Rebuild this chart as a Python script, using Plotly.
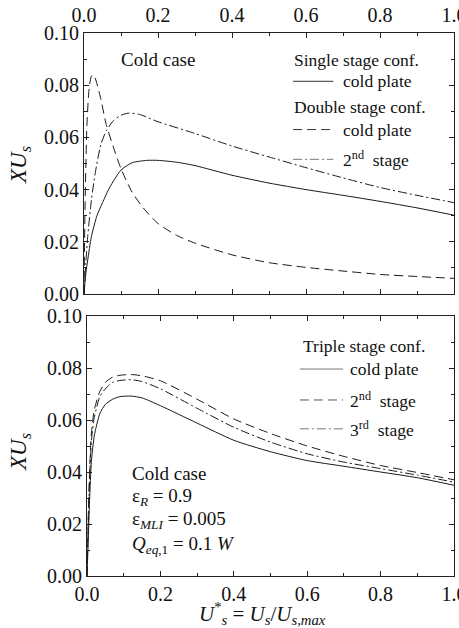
import plotly.graph_objects as go

# ---------------- data ----------------
# Top panel: single stage cold plate
x_single = [0, 0.005, 0.01, 0.02, 0.035, 0.05, 0.07, 0.1, 0.13, 0.17, 0.2, 0.25, 0.3, 0.4, 0.5, 0.6, 0.7, 0.8, 0.9, 1.0]
y_single = [0, 0.008, 0.013, 0.022, 0.030, 0.035, 0.041, 0.0475, 0.0503, 0.0512, 0.0512, 0.0505, 0.0492, 0.0455, 0.0425, 0.0400, 0.0378, 0.0355, 0.0330, 0.0302]

# Top panel: double stage cold plate
x_double_cp = [0, 0.003, 0.008, 0.014, 0.02, 0.025, 0.032, 0.045, 0.06, 0.08, 0.1, 0.13, 0.16, 0.2, 0.25, 0.3, 0.4, 0.5, 0.6, 0.7, 0.8, 0.9, 1.0]
y_double_cp = [0, 0.035, 0.065, 0.079, 0.0835, 0.084, 0.082, 0.075, 0.065, 0.056, 0.048, 0.039, 0.033, 0.027, 0.0225, 0.0195, 0.015, 0.012, 0.0102, 0.0088, 0.0075, 0.0067, 0.006]

# Top panel: double stage 2nd stage
x_double_2 = [0, 0.005, 0.01, 0.02, 0.03, 0.045, 0.06, 0.08, 0.1, 0.12, 0.15, 0.2, 0.3, 0.4, 0.5, 0.6, 0.7, 0.8, 0.9, 1.0]
y_double_2 = [0, 0.012, 0.022, 0.036, 0.046, 0.057, 0.0625, 0.0665, 0.0685, 0.0693, 0.0688, 0.066, 0.0615, 0.0567, 0.0525, 0.0484, 0.0445, 0.0408, 0.0378, 0.035]

# Bottom panel: triple stage
x_triple = [0, 0.003, 0.007, 0.012, 0.02, 0.035, 0.05, 0.07, 0.09, 0.12, 0.15, 0.2, 0.3, 0.4, 0.5, 0.6, 0.7, 0.8, 0.9, 1.0]
y_triple_cp = [0, 0.012, 0.029, 0.044, 0.054, 0.0625, 0.066, 0.068, 0.069, 0.0692, 0.0685, 0.0655, 0.0588, 0.0522, 0.0478, 0.0444, 0.0422, 0.0400, 0.0378, 0.0349]
y_triple_2 = [0, 0.020, 0.040, 0.055, 0.064, 0.071, 0.0745, 0.0765, 0.0772, 0.0775, 0.0770, 0.0751, 0.0680, 0.0604, 0.0548, 0.0500, 0.0460, 0.0425, 0.0398, 0.0370]
y_triple_3 = [0, 0.018, 0.037, 0.052, 0.061, 0.069, 0.072, 0.0745, 0.0752, 0.0755, 0.0748, 0.0720, 0.0645, 0.0572, 0.0515, 0.0470, 0.0438, 0.0413, 0.0388, 0.0361]

x_ticks = [0.0, 0.2, 0.4, 0.6, 0.8, 1.0]
y_ticks = [0.00, 0.02, 0.04, 0.06, 0.08, 0.10]

FONT = "Liberation Serif, Times New Roman, DejaVu Serif, serif"
LC = "#1a1a1a"
DASH = "9px,5px"
DASHDOT = "9px,3px,2px,3px"

fig = go.Figure()

def add_line(x, y, dash, xa, ya):
    fig.add_trace(go.Scatter(x=x, y=y, mode="lines", xaxis=xa, yaxis=ya,
                             line=dict(color=LC, width=1, dash=dash, shape="spline", smoothing=0.6),
                             showlegend=False, hoverinfo="skip"))

add_line(x_single, y_single, "solid", "x", "y")
add_line(x_double_cp, y_double_cp, DASH, "x", "y")
add_line(x_double_2, y_double_2, DASHDOT, "x", "y")
add_line(x_triple, y_triple_cp, "solid", "x2", "y2")
add_line(x_triple, y_triple_2, DASH, "x2", "y2")
add_line(x_triple, y_triple_3, DASHDOT, "x2", "y2")

W, H = 459, 628
def axis_common():
    return dict(showgrid=False, zeroline=False, showline=True, linecolor="#222",
                linewidth=1, mirror="ticks", ticks="inside", ticklen=5, tickcolor="#222",
                ticklabeloverflow="allow", automargin=False,
                tickfont=dict(family=FONT, size=20, color="#111"))

xa1 = axis_common(); xa1.update(range=[0, 1], domain=[84/W, 454/W], side="top", anchor="y",
                                tickvals=x_ticks, tickformat=".1f", ticklabelstandoff=2,
                                minor=dict(ticks="inside", ticklen=3, dtick=0.1, tickcolor="#222"))
ya1 = axis_common(); ya1.update(range=[0, 0.1], domain=[1-294/H, 1-33/H], anchor="x",
                                tickvals=y_ticks, tickformat=".2f",
                                minor=dict(ticks="inside", ticklen=3, dtick=0.01, tickcolor="#222"))
xa2 = axis_common(); xa2.update(range=[0, 1], domain=[87/W, 454/W], side="bottom", anchor="y2",
                                tickvals=x_ticks, tickformat=".1f", ticklabelstandoff=0,
                                minor=dict(ticks="inside", ticklen=3, dtick=0.1, tickcolor="#222"))
ya2 = axis_common(); ya2.update(range=[0, 0.1], domain=[1-576/H, 1-316/H], anchor="x2",
                                tickvals=y_ticks, tickformat=".2f",
                                minor=dict(ticks="inside", ticklen=3, dtick=0.01, tickcolor="#222"))

ann = []
def txt(x, y, s, xr, yr, size=18):
    ann.append(dict(x=x, y=y, xref=xr, yref=yr, text=s, showarrow=False, xanchor="left",
                    yanchor="middle", font=dict(family=FONT, size=size, color="#111")))

# top panel texts
txt(0.094, 0.0898, "Cold case", "x", "y", 19)
txt(0.562, 0.0898, "Single stage conf.", "x", "y", 17.5)
txt(0.695, 0.0815, "cold plate", "x", "y", 17.5)
txt(0.562, 0.0717, "Double stage conf.", "x", "y", 17.5)
txt(0.695, 0.0630, "cold plate", "x", "y", 17.5)
txt(0.695, 0.0516, "2<sup>nd</sup>  stage", "x", "y", 17.5)

# bottom panel texts
txt(0.582, 0.0885, "Triple stage conf.", "x2", "y2", 17.5)
txt(0.710, 0.0796, "cold plate", "x2", "y2", 17.5)
txt(0.710, 0.0677, "2<sup>nd</sup>  stage", "x2", "y2", 17.5)
txt(0.710, 0.0566, "3<sup>rd</sup>  stage", "x2", "y2", 17.5)
txt(0.116, 0.0393, "Cold case", "x2", "y2", 19)
txt(0.116, 0.0304, "ε<sub><i>R</i></sub> = 0.9", "x2", "y2", 19)
txt(0.116, 0.0215, "ε<sub><i>MLI</i></sub> = 0.005", "x2", "y2", 19)
txt(0.116, 0.0119, "<i>Q</i><sub><i>eq</i>,1</sub> = 0.1 <i>W</i>", "x2", "y2", 19)

# axis titles
for yc in (165, 452):
    ann.append(dict(x=20/W, y=1-yc/H, xref="paper", yref="paper", text="<i>XU</i><sub><i>s</i></sub>",
                    textangle=-90, showarrow=False, font=dict(family=FONT, size=23, color="#111"),
                    xanchor="center", yanchor="middle"))
ann.append(dict(x=262/W, y=1-613/H, xref="paper", yref="paper",
                text="<i>U</i><sup>*</sup><sub><i>s</i></sub> = <i>U</i><sub><i>s</i></sub>/<i>U</i><sub><i>s,max</i></sub>",
                showarrow=False, font=dict(family=FONT, size=21, color="#111"),
                xanchor="center", yanchor="middle"))

# legend sample lines
shapes = []
def sample(x0, x1, y, dash, xr, yr, color="#333"):
    shapes.append(dict(type="line", x0=x0, x1=x1, y0=y, y1=y, xref=xr, yref=yr,
                       line=dict(color=color, width=1, dash=dash)))

sample(0.565, 0.674, 0.0815, "solid", "x", "y")
sample(0.565, 0.674, 0.0630, DASH, "x", "y")
sample(0.565, 0.674, 0.0516, DASHDOT, "x", "y", "#777")
sample(0.580, 0.698, 0.0796, "solid", "x2", "y2", "#777")
sample(0.580, 0.698, 0.0677, DASH, "x2", "y2", "#555")
sample(0.580, 0.698, 0.0566, DASHDOT, "x2", "y2", "#777")

fig.update_layout(template="none", width=W, height=H, margin=dict(l=0, r=0, t=0, b=0, pad=0),
                  paper_bgcolor="white", plot_bgcolor="white",
                  font=dict(family=FONT),
                  xaxis=xa1, yaxis=ya1, xaxis2=xa2, yaxis2=ya2,
                  annotations=ann, shapes=shapes, showlegend=False)

fig.write_html("out.html")
